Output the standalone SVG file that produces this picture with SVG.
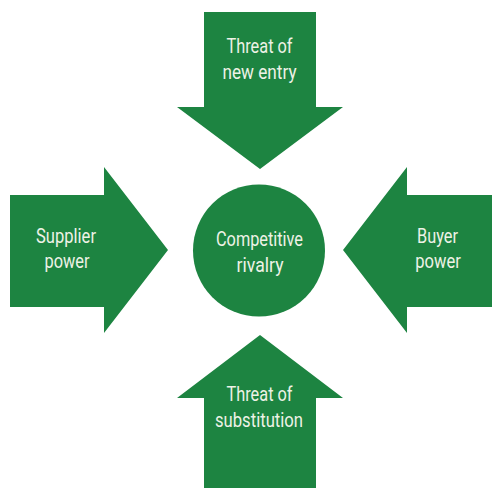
<svg xmlns="http://www.w3.org/2000/svg" width="492" height="488" viewBox="0 0 492 488">
<style>
.shape{fill:#1d8441;stroke:none}
.lbl{font-family:Roboto,"Liberation Sans",sans-serif;font-size:21px;fill:#eef2e6;text-anchor:middle}
</style>
<rect width="492" height="488" fill="#ffffff"/>
<g id="connectors"></g>
<g id="threat-new-entry">
<polygon class="shape" points="204,12 316,12 316,107 343,107 260,169 177,107 204,107"/>
<text class="lbl" x="259.5" y="53" textLength="66" lengthAdjust="spacingAndGlyphs">Threat of</text>
<text class="lbl" x="259.5" y="79" textLength="74" lengthAdjust="spacingAndGlyphs">new entry</text>
</g>
<g id="supplier-power">
<polygon class="shape" points="10,195 104,195 104,167 168,250 104,333 104,307 10,307"/>
<text class="lbl" x="66" y="243" textLength="60" lengthAdjust="spacingAndGlyphs">Supplier</text>
<text class="lbl" x="67" y="268" textLength="45" lengthAdjust="spacingAndGlyphs">power</text>
</g>
<g id="buyer-power">
<polygon class="shape" points="492,195 407,195 407,167 343,250 407,333 407,307 492,307"/>
<text class="lbl" x="437.5" y="243" textLength="41" lengthAdjust="spacingAndGlyphs">Buyer</text>
<text class="lbl" x="438" y="268" textLength="45.5" lengthAdjust="spacingAndGlyphs">power</text>
</g>
<g id="threat-substitution">
<polygon class="shape" points="204,488 316,488 316,398 343,398 260,335 177,398 204,398"/>
<text class="lbl" x="259.5" y="401" textLength="66" lengthAdjust="spacingAndGlyphs">Threat of</text>
<text class="lbl" x="259" y="427" textLength="88" lengthAdjust="spacingAndGlyphs">substitution</text>
</g>
<g id="competitive-rivalry">
<circle class="shape" cx="259" cy="250.5" r="66"/>
<text class="lbl" x="259.5" y="246" textLength="87" lengthAdjust="spacingAndGlyphs">Competitive</text>
<text class="lbl" x="260" y="272" textLength="47" lengthAdjust="spacingAndGlyphs">rivalry</text>
</g>
</svg>
